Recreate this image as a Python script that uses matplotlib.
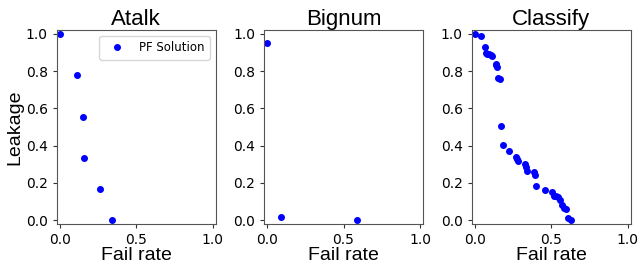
import matplotlib
matplotlib.use("Agg")
import matplotlib.pyplot as plt

# Pareto front solutions (fail rate vs leakage) per benchmark
atalk_fail = [0.0, 0.111, 0.149, 0.158, 0.264, 0.342]
atalk_leak = [1.0, 0.778, 0.556, 0.333, 0.167, 0.0]

bignum_fail = [0.0, 0.09, 0.59]
bignum_leak = [0.952, 0.018, 0.0]

classify_fail = [0.0, 0.041, 0.069, 0.074, 0.083, 0.096, 0.105, 0.115, 0.136, 0.141,
                 0.145, 0.154, 0.167, 0.169, 0.182, 0.223, 0.273, 0.278, 0.282, 0.329,
                 0.336, 0.344, 0.390, 0.396, 0.403, 0.459, 0.502, 0.518, 0.532, 0.546,
                 0.557, 0.570, 0.584, 0.595, 0.608, 0.628]
classify_leak = [1.0, 0.988, 0.930, 0.897, 0.893, 0.890, 0.886, 0.881, 0.838, 0.830,
                 0.822, 0.761, 0.756, 0.505, 0.405, 0.373, 0.339, 0.329, 0.319, 0.303,
                 0.284, 0.266, 0.257, 0.245, 0.185, 0.160, 0.150, 0.132, 0.128, 0.125,
                 0.107, 0.080, 0.068, 0.060, 0.014, 0.0]

titles = ["Atalk", "Bignum", "Classify"]
data = [(atalk_fail, atalk_leak), (bignum_fail, bignum_leak), (classify_fail, classify_leak)]
lefts = [56.7, 264.0, 471.7]

W, H = 639, 269
fig = plt.figure(figsize=(W / 100, H / 100), dpi=100)
label_font = ["Liberation Sans", "DejaVu Sans"]

for i, (title, (fx, ly)) in enumerate(zip(titles, data)):
    ax = fig.add_axes([lefts[i] / W, 1 - 224 / H, 159 / W, 194 / H])
    ax.plot(fx, ly, "o", color="blue", markersize=4, label="PF Solution")
    ax.set_xlim(-0.02, 1.02)
    ax.set_ylim(-0.02, 1.02)
    ax.set_xticks([0.0, 0.5, 1.0])
    ax.set_yticks([0.0, 0.2, 0.4, 0.6, 0.8, 1.0])
    ax.tick_params(labelsize=10, length=3, color="#333333")
    for s in ax.spines.values():
        s.set_color("#555555")
    ax.set_title(title, fontsize=16, family=label_font, pad=2)
    ax.set_xlabel("Fail rate", fontsize=14, family=label_font, labelpad=0)
    if i == 0:
        ax.set_ylabel("Leakage", fontsize=14, family=label_font, labelpad=2)
        ax.legend(loc="upper right", fontsize=8.5, handletextpad=0.9, borderpad=0.45)

fig.savefig("out.png", dpi=100)
